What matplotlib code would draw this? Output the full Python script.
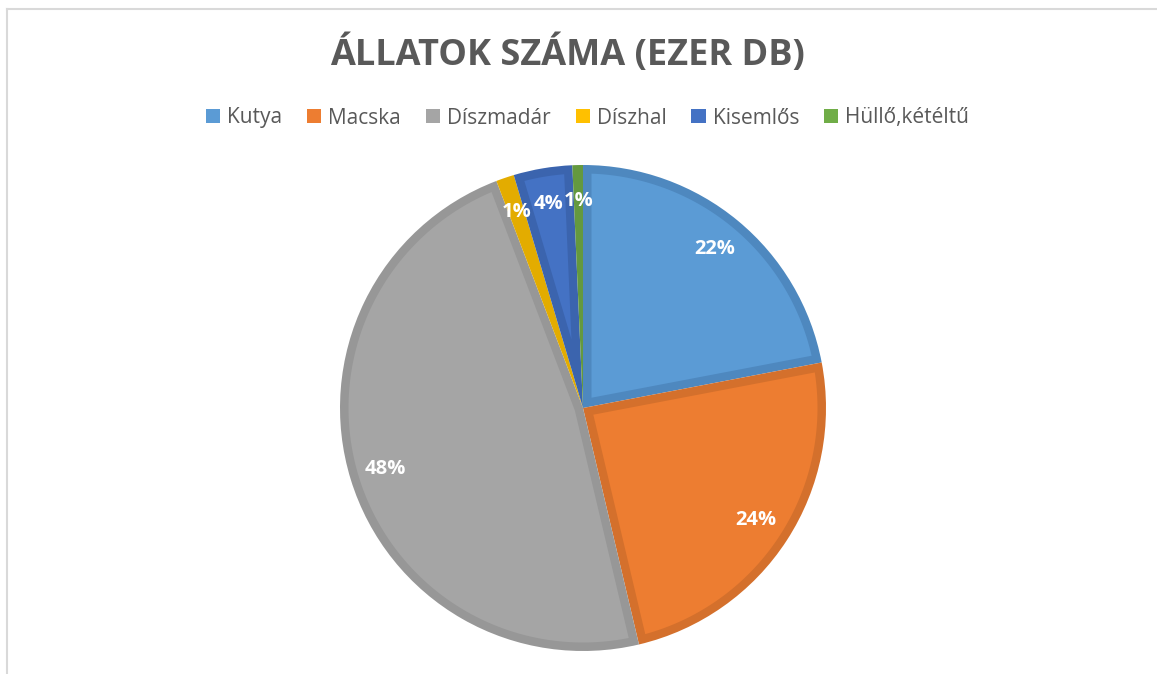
import numpy as np
import matplotlib
matplotlib.use("Agg")
import matplotlib.pyplot as plt
from matplotlib.patches import Patch, Polygon
from matplotlib.lines import Line2D

categories = ["Kutya", "Macska", "Díszmadár", "Díszhal", "Kisemlős", "Hüllő,kétéltű"]
values = [22.0, 24.3, 47.9, 1.2, 3.9, 0.7]
fill_colors = ["#5B9BD5", "#ED7D31", "#A5A5A5", "#FFC000", "#4472C4", "#70AD47"]
edge_colors = ["#4E88BF", "#D4702C", "#979797", "#E3AC00", "#3B64AE", "#64993F"]
title = "ÁLLATOK SZÁMA (EZER DB)"

FONT = "Open Sans"
W, H = 1157, 674
fig = plt.figure(figsize=(W / 100, H / 100), dpi=100)
fig.patch.set_facecolor("white")

cx, cy, r = 583, 408, 243
ax = fig.add_axes([(cx - r) / W, (H - cy - r) / H, 2 * r / W, 2 * r / H])
wedges, texts, autotexts = ax.pie(
    values, colors=edge_colors, startangle=90, counterclock=False,
    autopct="%1.0f%%", pctdistance=0.85, radius=1,
    wedgeprops=dict(linewidth=0),
    textprops=dict(color="white", fontsize=14.5, fontweight="bold", family=FONT),
)

# inner (lighter) part of each slice: slice inset by the border width
d = 8.5 / r
for w, fc in zip(wedges, fill_colors):
    a1, a2 = sorted([w.theta1, w.theta2])
    R = w.r
    cxy = np.array(w.center)
    th = np.deg2rad(a2 - a1)
    delta = np.degrees(np.arcsin(d / (R - d)))
    b1, b2 = a1 + delta, a2 - delta
    if b2 - b1 <= 0.5:
        continue
    mid = np.deg2rad((a1 + a2) / 2)
    apex_r = d / np.sin(th / 2)
    apex = cxy + apex_r * np.array([np.cos(mid), np.sin(mid)])
    angs = np.deg2rad(np.linspace(b1, b2, 120))
    arc = cxy + (R - d) * np.column_stack([np.cos(angs), np.sin(angs)])
    poly = Polygon(np.vstack([apex, arc]), closed=True, facecolor=fc,
                   edgecolor="none", zorder=w.get_zorder() + 0.1)
    ax.add_patch(poly)
for t in autotexts:
    t.set_zorder(5)

ax.set_xlim(-1, 1)
ax.set_ylim(-1, 1)
ax.set_aspect("equal")
ax.axis("off")

fig.text(567.5 / W, 1 - 55 / H, title, ha="center", va="center",
         fontsize=26, fontweight="bold", color="#595959", family=FONT)

handles = [Patch(facecolor=c, edgecolor="none") for c in fill_colors]
leg = fig.legend(handles, categories, loc="center", bbox_to_anchor=(587.5 / W, 1 - 118 / H),
                 ncol=6, frameon=False, handlelength=0.68, handleheight=0.68,
                 handletextpad=0.33, columnspacing=1.2,
                 prop=dict(family=FONT, size=15))
for t in leg.get_texts():
    t.set_color("#595959")

# chart border (top and left visible)
fig.add_artist(Line2D([6.5 / W, 1], [1 - 8.5 / H, 1 - 8.5 / H], color="#D9D9D9", lw=1.5,
                      transform=fig.transFigure))
fig.add_artist(Line2D([6.5 / W, 6.5 / W], [0, 1 - 8.5 / H], color="#D9D9D9", lw=1.5,
                      transform=fig.transFigure))

fig.savefig("out.png", dpi=100)
